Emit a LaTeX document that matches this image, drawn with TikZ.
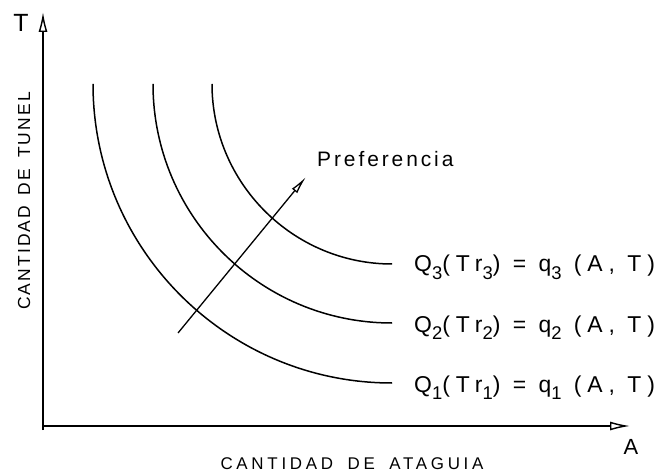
\documentclass[tikz,border=0pt]{standalone}
\usepackage{fontspec}
\setmainfont{Liberation Sans}
\usetikzlibrary{arrows.meta}
\newcommand{\lsub}[1]{\raisebox{-0.32em}{\fontsize{18.5}{18.5}\selectfont #1}}
\begin{document}
\begin{tikzpicture}[x=1bp,y=-1bp,
  curve/.style={line width=1.5bp},
  axis/.style={line width=1.4bp, -{Latex[open,length=20bp,width=9bp]}},
  pref/.style={line width=1.3bp, -{Latex[open,length=18bp,width=7bp]}},
  lbl/.style={anchor=base west, inner sep=0pt, font=\fontsize{23}{23}\selectfont\addfontfeature{LetterSpace=26}},
  axlbl/.style={inner sep=0pt, font=\fontsize{17}{17}\selectfont\addfontfeature{LetterSpace=22}},
  letter/.style={inner sep=0pt, font=\fontsize{22}{22}\selectfont}
 ]
\useasboundingbox (0,0) rectangle (658,475);
% axes
\coordinate (O) at (43,430);
\coordinate (Oy) at (43,426);
\coordinate (ytip) at (43,12);
\coordinate (xtip) at (630,426);
\draw[axis] (O) -- (ytip);
\draw[axis] (Oy) -- (xtip);
\node[letter, font=\fontsize{25}{25}\selectfont] (T) at (21,23) {T};
\node[letter] (A) at (631,447) {A};
\node[axlbl] (xl) at (352,464) {CANTIDAD\hspace{6bp} DE\hspace{6bp} ATAGUIA};
\node[axlbl, rotate=90, font=\fontsize{17.5}{17.5}\selectfont\addfontfeature{LetterSpace=12}] (yl) at (24,201) {CANTIDAD\hspace{4bp} DE\hspace{4bp} TUNEL};
% curves (quarter circles about (392,84))
\coordinate (c1s) at (93,84);  \coordinate (c1e) at (392,383);
\coordinate (c2s) at (153,84); \coordinate (c2e) at (392,323);
\coordinate (c3s) at (212,84); \coordinate (c3e) at (392,264);
\draw[curve] (c1s) .. controls (93,249) and (227,383) .. (c1e);
\draw[curve] (c2s) .. controls (153,216) and (260,323) .. (c2e);
\draw[curve] (c3s) .. controls (212,183) and (293,264) .. (c3e);
% preference arrow
\coordinate (ps) at (178,333);
\coordinate (pe) at (306,177);
\draw[pref] (ps) -- (pe);
\node[anchor=base west, inner sep=0pt, font=\fontsize{21}{21}\selectfont\addfontfeature{LetterSpace=14}] (pl) at (317,167) {Preferencia};
% labels
\node[lbl] (l3) at (414,272) {Q\lsub{3}(Tr\lsub{3}) = q\lsub{3} (A, T)};
\node[lbl] (l2) at (414,332) {Q\lsub{2}(Tr\lsub{2}) = q\lsub{2} (A, T)};
\node[lbl] (l1) at (414,392) {Q\lsub{1}(Tr\lsub{1}) = q\lsub{1} (A, T)};
\end{tikzpicture}
\end{document}
